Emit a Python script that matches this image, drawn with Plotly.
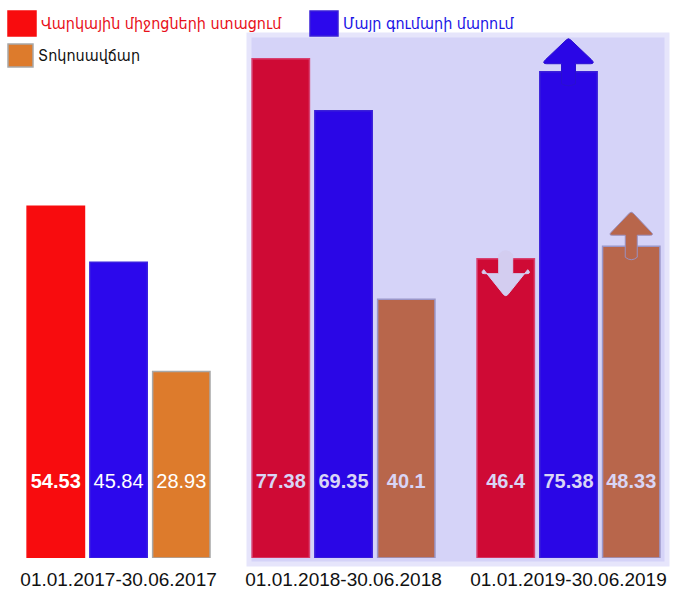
import plotly.graph_objects as go

# ---------------- data ----------------
periods = ["01.01.2017-30.06.2017", "01.01.2018-30.06.2018", "01.01.2019-30.06.2019"]
series_names = ["Վարկային միջոցների ստացում", "Մայր գումարի մարում", "Տոկոսավճար"]
loans_received = [54.53, 77.38, 46.4]
principal_repaid = [45.84, 69.35, 75.38]
interest_paid = [28.93, 40.1, 48.33]
value_labels = [["54.53", "77.38", "46.4"], ["45.84", "69.35", "75.38"], ["28.93", "40.1", "48.33"]]
change_direction = [["", "", "down"], ["", "", "up"], ["", "", "up"]]

# ---------------- styles ----------------
W, H = 674, 590
MB = 32
PLOT_H = H - MB
Y_MAX = 86.5
X_RANGE = [-0.527, 2.469]
BAR_W = 0.255
OFFS = [-0.279, 0.0, 0.279]
LABEL_Y = 11.7

bar_colors = [
    ["#f80c0e", "#cf0a35", "#cf0a35"],
    ["#2c08ec", "#2a06e6", "#2a06e6"],
    ["#dd7b2c", "#b8664b", "#b8664b"],
]
bar_lines = [
    ["#f80c0e", "#d84070", "#d84070"],
    ["#3a20e0", "#3a20d8", "#3a20d8"],
    ["#a8a8a8", "#9a96c8", "#9a96c8"],
]
text_colors = ["#ffffff", "#d9d5f5", "#d9d5f5"]
text_bold = [[True, True, True], [False, True, True], [False, True, True]]
legend_colors = ["#f80c0e", "#2c08ec", "#dd7b2c"]
legend_line_colors = ["#f80c0e", "#3a20d8", "#a8a8a8"]
legend_text_colors = ["#e8101a", "#1a14e6", "#111111"]
legend_pos = [(8, 11, 36, 36), (310, 11, 338, 36), (8, 44, 33, 67)]

values = [loans_received, principal_repaid, interest_paid]

fig = go.Figure()

for s in range(3):
    xs = [g + OFFS[s] for g in range(3)]
    fig.add_trace(go.Bar(
        x=xs, y=values[s], width=BAR_W, name=series_names[s], showlegend=False,
        marker=dict(color=bar_colors[s], line=dict(color=bar_lines[s], width=1.5)),
        hoverinfo="y",
    ))
    texts = []
    for g in range(3):
        t = value_labels[s][g]
        texts.append(f"<b>{t}</b>" if text_bold[s][g] else t)
    fig.add_trace(go.Scatter(
        x=xs, y=[LABEL_Y] * 3, mode="text", text=texts, showlegend=False,
        textfont=dict(family="Liberation Sans, Arial, sans-serif", size=20, color=text_colors),
        hoverinfo="skip",
    ))

shapes = []
# lavender highlight panel behind 2018 and 2019
shapes.append(dict(type="rect", xref="paper", yref="paper", layer="below",
                   x0=249 / W, x1=667 / W, y0=(PLOT_H - 564) / PLOT_H, y1=(PLOT_H - 35) / PLOT_H,
                   fillcolor="#d5d3f8", line=dict(color="#e6e5fb", width=5)))

# change arrows anchored at bar tops (pixel-sized paths)
up_blue = "M -7,-12 L -7,8 L -22,8 Q -27,8 -23,12 L -2,32 Q 0,34 2,32 L 23,12 Q 27,8 22,8 L 7,8 L 7,-12 Q 0,-16 -7,-12 Z"
up_brown = "M -6,-11 L -6,11 L -19,11 Q -23,11 -20,14 L -2,33 Q 0,35 2,33 L 20,14 Q 23,11 19,11 L 6,11 L 6,-11 Q 0,-16 -6,-11 Z"
down_red = "M -7,4 Q 0,12 7,4 L 7,-15 L 21,-15 Q 26,-15 22,-11 L 2,-36 Q 0,-38 -2,-36 L -22,-11 Q -26,-15 -21,-15 L -7,-15 Z"
arrow_style = {
    (0, 2): (down_red, "#d3cdf0", "#d3cdf0"),
    (1, 2): (up_blue, "#2a06e6", "#2a10d0"),
    (2, 2): (up_brown, "#b8664b", "#9a90c0"),
}
for s in range(3):
    for g in range(3):
        if change_direction[s][g]:
            path, fc, lc = arrow_style[(s, g)]
            shapes.append(dict(type="path", xref="x", yref="y", xsizemode="pixel", ysizemode="pixel",
                               xanchor=g + OFFS[s], yanchor=values[s][g], path=path,
                               fillcolor=fc, line=dict(color=lc, width=1), layer="above"))

# custom legend boxes
annotations = []
for i, (x0, y0, x1, y1) in enumerate(legend_pos):
    shapes.append(dict(type="rect", xref="paper", yref="paper",
                       x0=x0 / W, x1=x1 / W, y0=(PLOT_H - y1) / PLOT_H, y1=(PLOT_H - y0) / PLOT_H,
                       fillcolor=legend_colors[i],
                       line=dict(color=legend_line_colors[i], width=1.5)))
    annotations.append(dict(xref="paper", yref="paper", x=(x1 + 3) / W, y=(PLOT_H - (y0 + y1) / 2) / PLOT_H,
                            xanchor="left", yanchor="middle", showarrow=False, text=series_names[i],
                            font=dict(family="DejaVu Sans Condensed, DejaVu Sans, sans-serif", size=16,
                                      color=legend_text_colors[i])))

fig.update_layout(
    width=W, height=H,
    margin=dict(l=0, r=0, t=0, b=MB, autoexpand=False),
    paper_bgcolor="white", plot_bgcolor="rgba(0,0,0,0)",
    barmode="overlay",
    showlegend=False,
    shapes=shapes, annotations=annotations,
    xaxis=dict(range=X_RANGE, tickvals=[0, 1, 2], ticktext=periods, showgrid=False, zeroline=False,
               showline=False, ticks="", ticklabelstandoff=8, automargin=False,
               tickfont=dict(family="Liberation Sans, Arial, sans-serif", size=19, color="#111111")),
    yaxis=dict(range=[0, Y_MAX], visible=False, showgrid=False, zeroline=False, automargin=False),
)

fig.write_html("out.html", config={"displayModeBar": False},
               post_script="document.body.style.margin='0';document.body.style.overflow='hidden';")
